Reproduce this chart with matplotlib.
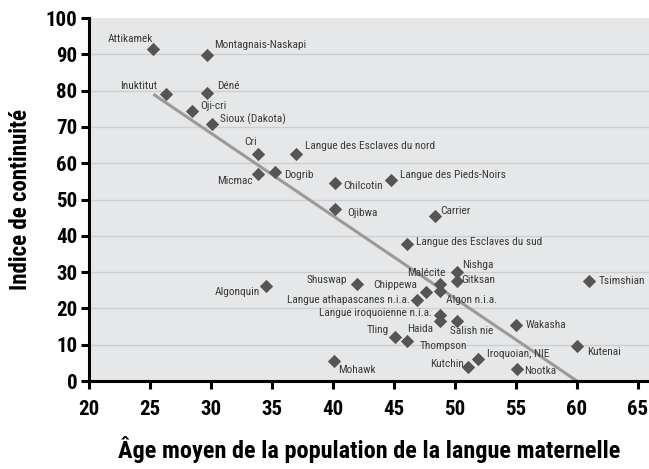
import matplotlib
matplotlib.use("Agg")
import matplotlib.pyplot as plt

# ---- data ----
names = ["Attikamek", "Montagnais-Naskapi", "Inuktitut", "Déné", "Oji-cri",
         "Sioux (Dakota)", "Cri", "Micmac", "Dogrib", "Langue des Esclaves du nord",
         "Chilcotin", "Langue des Pieds-Noirs", "Ojibwa", "Carrier",
         "Langue des Esclaves du sud", "Algonquin", "Shuswap", "Chippewa",
         "Langue athapascanes n.i.a.", "Malécite", "Algon n.i.a.", "Nishga",
         "Gitksan", "Langue iroquoienne n.i.a.", "Haida", "Tling", "Thompson",
         "Salish nie", "Wakasha", "Tsimshian", "Kutenai", "Nootka",
         "Iroquoian, NIE", "Kutchin", "Mohawk"]
age = [25.3, 29.7, 26.3, 29.7, 28.5,
       30.1, 33.9, 33.9, 35.3, 37.0,
       40.2, 44.8, 40.2, 48.4,
       46.1, 34.5, 42.0, 47.6,
       46.9, 48.8, 48.8, 50.2,
       50.2, 48.8, 48.8, 45.1, 46.1,
       50.2, 55.0, 61.0, 60.0, 55.1,
       51.9, 51.1, 40.1]
continuity = [91.5, 89.8, 79.1, 79.3, 74.4,
              70.8, 62.5, 57.0, 57.7, 62.5,
              54.5, 55.3, 47.3, 45.5,
              37.7, 26.3, 26.7, 24.4,
              22.3, 26.6, 24.9, 29.9,
              27.5, 18.1, 16.5, 12.2, 11.1,
              16.5, 15.3, 27.6, 9.7, 3.3,
              6.0, 3.9, 5.6]
trend_x = [25.3, 60.0]
trend_y = [79.0, 0.0]
x_ticks = [20, 25, 30, 35, 40, 45, 50, 55, 60, 65]
y_ticks = [0, 10, 20, 30, 40, 50, 60, 70, 80, 90, 100]

# label placement (pixel offsets, horizontal alignment)
label_pos = {
    "Attikamek": (0, 10, "right"),
    "Montagnais-Naskapi": (7, 10, "left"),
    "Inuktitut": (-8, 8, "right"),
    "Déné": (10, 7, "left"),
    "Oji-cri": (8, 5, "left"),
    "Sioux (Dakota)": (8, 5, "left"),
    "Cri": (-8, 12, "center"),
    "Micmac": (-6, -7, "right"),
    "Dogrib": (9, -3, "left"),
    "Langue des Esclaves du nord": (9, 8, "left"),
    "Chilcotin": (8, -3, "left"),
    "Langue des Pieds-Noirs": (9, 5, "left"),
    "Ojibwa": (12, -4, "left"),
    "Carrier": (5, 5, "left"),
    "Langue des Esclaves du sud": (9, 2, "left"),
    "Algonquin": (-6, -6, "right"),
    "Shuswap": (-10, 4, "right"),
    "Chippewa": (-8, 7, "right"),
    "Langue athapascanes n.i.a.": (-7, 0, "right"),
    "Malécite": (5, 11, "right"),
    "Algon n.i.a.": (6, -9, "left"),
    "Nishga": (5, 7, "left"),
    "Gitksan": (4, 1, "left"),
    "Langue iroquoienne n.i.a.": (-8, 2, "right"),
    "Haida": (-7, -8, "right"),
    "Tling": (-6, 7, "right"),
    "Thompson": (12, -5, "left"),
    "Salish nie": (-7, -10, "left"),
    "Wakasha": (10, 0, "left"),
    "Tsimshian": (9, 0, "left"),
    "Kutenai": (10, -6, "left"),
    "Nootka": (7, -2, "left"),
    "Iroquoian, NIE": (9, 5, "left"),
    "Kutchin": (-4, 3, "right"),
    "Mohawk": (4, -9, "left"),
}

plt.rcParams['font.family'] = ['Roboto Condensed', 'DejaVu Sans']

fig = plt.figure(figsize=(6.49, 4.69), dpi=100)
ax = fig.add_axes([88.7 / 649, 1 - 381 / 469, 1 - 88.7 / 649, (381 - 18) / 469])
ax.set_facecolor("#e6e7e8")

ax.set_xlim(20, 65.9)
ax.set_ylim(0, 100)

for yv in y_ticks[1:-1]:
    ax.axhline(yv, color="#cdcecf", lw=1.0, zorder=1)

ax.plot(trend_x, trend_y, color="#9a9a9a", lw=2.2, zorder=2, solid_capstyle="butt")
ax.scatter(age, continuity, marker="D", s=46, color="#555555", zorder=3, linewidths=0)

for n, xv, yv in zip(names, age, continuity):
    dx, dy, ha = label_pos[n]
    ax.annotate(n, (xv, yv), xytext=(dx, dy), textcoords="offset pixels",
                ha=ha, va="center", fontsize=8.2, color="#3a3a3a", zorder=4)

for s in ["top", "right"]:
    ax.spines[s].set_visible(False)
for s in ["left", "bottom"]:
    ax.spines[s].set_linewidth(2.2)
    ax.spines[s].set_color("black")

ax.set_xticks(x_ticks)
ax.set_yticks(y_ticks)
ax.tick_params(axis="both", direction="out", length=6, width=2.2, color="black",
               labelsize=15, pad=2)
for lab in ax.get_xticklabels() + ax.get_yticklabels():
    lab.set_fontweight("bold")
ax.tick_params(axis="x", pad=8)

ax.set_xlabel("Âge moyen de la population de la langue maternelle",
              fontsize=17.5, fontweight="bold", labelpad=12)
ax.set_ylabel("Indice de continuité", fontsize=16.5, fontweight="bold", labelpad=10)

fig.savefig("out.png", dpi=100)
